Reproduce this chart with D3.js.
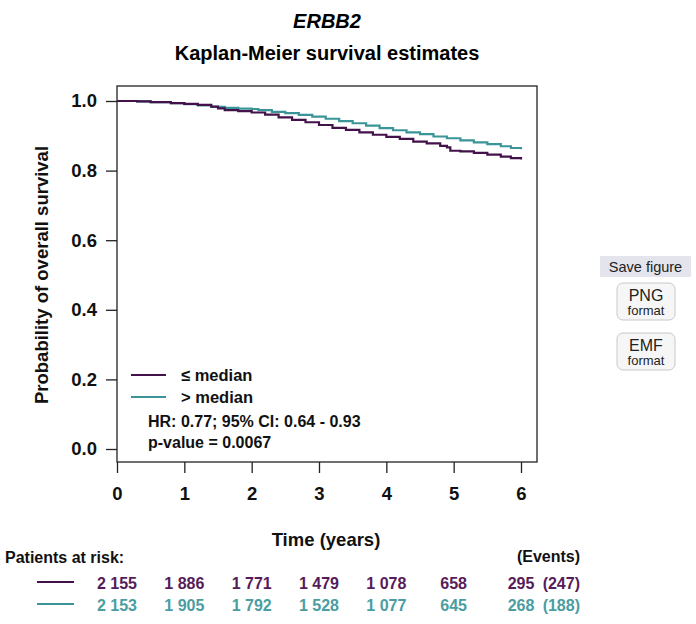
<!DOCTYPE html>
<html>
<head>
<meta charset="utf-8">
<script src="https://cdn.jsdelivr.net/npm/d3@7"></script>
<style>
  html, body { margin: 0; padding: 0; background: #fff; }
  svg text { font-family: "Liberation Sans", Arial, sans-serif; }
</style>
</head>
<body>
<svg id="chart" width="696" height="624"></svg>
<script>
// ---- data ----
const groups = ["≤ median", "> median"];
const lowTimes = [0, 0.3, 0.5, 0.8, 1.0, 1.2, 1.4, 1.5, 1.6, 1.8, 2.0, 2.2, 2.4, 2.6, 2.8, 3.0, 3.2, 3.4, 3.6, 3.8, 4.0, 4.2, 4.4, 4.6, 4.8, 4.9, 4.95, 5.1, 5.3, 5.5, 5.7, 5.85, 6.0];
const lowSurv  = [1.0, 0.999, 0.997, 0.994, 0.992, 0.989, 0.984, 0.979, 0.974, 0.971, 0.967, 0.961, 0.953, 0.946, 0.939, 0.931, 0.923, 0.917, 0.910, 0.903, 0.897, 0.891, 0.883, 0.878, 0.871, 0.867, 0.857, 0.855, 0.851, 0.846, 0.840, 0.836, 0.832];
const highTimes = [0, 0.3, 0.5, 0.8, 1.0, 1.2, 1.4, 1.6, 1.8, 2.0, 2.1, 2.3, 2.5, 2.7, 2.9, 3.1, 3.3, 3.5, 3.7, 3.9, 4.1, 4.3, 4.5, 4.7, 4.9, 5.1, 5.3, 5.5, 5.7, 5.85, 6.0];
const highSurv  = [1.0, 0.999, 0.997, 0.994, 0.991, 0.987, 0.983, 0.980, 0.978, 0.977, 0.974, 0.969, 0.965, 0.960, 0.955, 0.949, 0.942, 0.936, 0.929, 0.922, 0.916, 0.910, 0.905, 0.898, 0.893, 0.887, 0.881, 0.876, 0.870, 0.865, 0.861];
const xTicks = [0, 1, 2, 3, 4, 5, 6];
const yTicks = [0.0, 0.2, 0.4, 0.6, 0.8, 1.0];
const lowAtRisk  = ["2 155", "1 886", "1 771", "1 479", "1 078", "658", "295"];
const highAtRisk = ["2 153", "1 905", "1 792", "1 528", "1 077", "645", "268"];
const events = ["(247)", "(188)"];
const hrText = "HR: 0.77; 95% CI: 0.64 - 0.93";
const pText = "p-value = 0.0067";

const lineColors = ["#43124a", "#3b9598"];
const textColors = ["#561c5a", "#4a9da1"];

// ---- layout ----
const svg = d3.select("#chart");
const x = d3.scaleLinear().domain([0, 6]).range([117, 521]);
const y = d3.scaleLinear().domain([0, 1]).range([449, 101]);
const box = {l: 117, r: 537, t: 86, b: 462};

// titles
svg.append("text").attr("x", 327).attr("y", 28).attr("text-anchor", "middle")
  .style("font-size", "20px").style("font-weight", "bold").style("font-style", "italic")
  .text("ERBB2");
svg.append("text").attr("x", 327).attr("y", 60).attr("text-anchor", "middle")
  .style("font-size", "20px").style("font-weight", "bold")
  .text("Kaplan-Meier survival estimates");

// box
svg.append("rect").attr("x", box.l).attr("y", box.t)
  .attr("width", box.r - box.l).attr("height", box.b - box.t)
  .attr("fill", "none").attr("stroke", "#222").attr("stroke-width", 1.3);

// y axis (ticks only)
const yAxis = d3.axisLeft(y).tickValues(yTicks).tickFormat(d3.format(".1f")).tickSize(11).tickPadding(9);
const gy = svg.append("g").attr("transform", `translate(${box.l},0)`).call(yAxis);
gy.select(".domain").remove();
gy.selectAll("line").attr("stroke", "#222").attr("stroke-width", 1.3);
gy.selectAll("text").style("font-size", "18.5px").style("font-weight", "bold").attr("fill", "#111")
  .attr("font-family", "Liberation Sans, Arial, sans-serif");

// x axis (ticks only)
const xAxis = d3.axisBottom(x).tickValues(xTicks).tickFormat(d3.format("d")).tickSize(11).tickPadding(14);
const gx = svg.append("g").attr("transform", `translate(0,${box.b})`).call(xAxis);
gx.select(".domain").remove();
gx.selectAll("line").attr("stroke", "#222").attr("stroke-width", 1.3);
gx.selectAll("text").style("font-size", "18.5px").style("font-weight", "bold").attr("fill", "#111")
  .attr("font-family", "Liberation Sans, Arial, sans-serif");

// axis labels
svg.append("text").attr("transform", "translate(48,275) rotate(-90)").attr("text-anchor", "middle")
  .style("font-size", "18.5px").style("font-weight", "bold").attr("fill", "#111")
  .text("Probability of overall survival");
svg.append("text").attr("x", 326).attr("y", 546).attr("text-anchor", "middle")
  .style("font-size", "18.5px").style("font-weight", "bold").attr("fill", "#111")
  .text("Time (years)");

// curves
const line = d3.line().x(d => x(d[0])).y(d => y(d[1])).curve(d3.curveStepAfter);
const series = [d3.zip(lowTimes, lowSurv), d3.zip(highTimes, highSurv)];
[1, 0].forEach(i => {
  svg.append("path").datum(series[i]).attr("d", line)
    .attr("fill", "none").attr("stroke", lineColors[i]).attr("stroke-width", 2.2);
});

// legend
const legY = [375, 397];
groups.forEach((g, i) => {
  svg.append("line").attr("x1", 131).attr("x2", 166).attr("y1", legY[i]).attr("y2", legY[i])
    .attr("stroke", lineColors[i]).attr("stroke-width", 2.2);
  svg.append("text").attr("x", 181).attr("y", legY[i] + 6)
    .style("font-size", "16.5px").style("font-weight", "bold").attr("fill", "#111").text(g);
});
svg.append("text").attr("x", 148).attr("y", 427)
  .style("font-size", "16px").style("font-weight", "bold").attr("fill", "#111").text(hrText);
svg.append("text").attr("x", 148).attr("y", 448)
  .style("font-size", "16px").style("font-weight", "bold").attr("fill", "#111").text(pText);

// risk table
svg.append("text").attr("x", 5).attr("y", 563)
  .style("font-size", "16px").style("font-weight", "bold").attr("fill", "#111").text("Patients at risk:");
svg.append("text").attr("x", 580).attr("y", 562).attr("text-anchor", "end")
  .style("font-size", "16px").style("font-weight", "bold").attr("fill", "#111").text("(Events)");
const rowY = [583, 605];
[lowAtRisk, highAtRisk].forEach((row, i) => {
  svg.append("line").attr("x1", 37).attr("x2", 74).attr("y1", rowY[i] - 1).attr("y2", rowY[i] - 1)
    .attr("stroke", lineColors[i]).attr("stroke-width", 2);
  svg.selectAll(null).data(row).enter().append("text")
    .attr("x", (d, j) => x(xTicks[j])).attr("y", rowY[i] + 5.5).attr("text-anchor", "middle")
    .style("font-size", "16px").style("font-weight", "bold").attr("fill", textColors[i]).text(d => d);
  svg.append("text").attr("x", 580).attr("y", rowY[i] + 5.5).attr("text-anchor", "end")
    .style("font-size", "16px").style("font-weight", "bold").attr("fill", textColors[i]).text(events[i]);
});

// save figure widget
svg.append("rect").attr("x", 600).attr("y", 256).attr("width", 91).attr("height", 21).attr("fill", "#e4e4ec");
svg.append("text").attr("x", 645.5).attr("y", 272).attr("text-anchor", "middle")
  .style("font-size", "14.5px").attr("fill", "#222").attr("font-family", "DejaVu Sans, Verdana, sans-serif")
  .text("Save figure");
[["PNG", 283], ["EMF", 333]].forEach(([lab, top]) => {
  svg.append("rect").attr("x", 617).attr("y", top).attr("width", 58).attr("height", 37).attr("rx", 6)
    .attr("fill", "#f6f6f6").attr("stroke", "#c8c8c8");
  svg.append("text").attr("x", 646).attr("y", top + 18).attr("text-anchor", "middle")
    .style("font-size", "16px").attr("fill", "#222").attr("font-family", "DejaVu Sans, Verdana, sans-serif").text(lab);
  svg.append("text").attr("x", 646).attr("y", top + 32).attr("text-anchor", "middle")
    .style("font-size", "13px").attr("fill", "#222").attr("font-family", "DejaVu Sans, Verdana, sans-serif").text("format");
});
</script>
</body>
</html>
